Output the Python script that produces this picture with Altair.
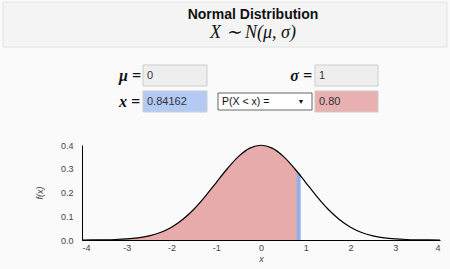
import altair as alt
import pandas as pd

# Curve values (f(x) of N(0,1))
xs = [-4.0, -3.75, -3.5, -3.25, -3.0, -2.75, -2.5, -2.25, -2.0, -1.75, -1.5, -1.25, -1.0, -0.75, -0.5, -0.25,
      0.0, 0.25, 0.5, 0.75, 1.0, 1.25, 1.5, 1.75, 2.0, 2.25, 2.5, 2.75, 3.0, 3.25, 3.5, 3.75, 4.0]
fx = [0.0001, 0.0004, 0.0009, 0.0020, 0.0044, 0.0091, 0.0175, 0.0317, 0.0540, 0.0863, 0.1295, 0.1826, 0.2420,
      0.3011, 0.3521, 0.3867, 0.3989, 0.3867, 0.3521, 0.3011, 0.2420, 0.1826, 0.1295, 0.0863, 0.0540, 0.0317,
      0.0175, 0.0091, 0.0044, 0.0020, 0.0009, 0.0004, 0.0001]
x_value = 0.84162
fx_value = 0.28
prob = "0.80"
mu = "0"
sigma = "1"
x_ticks = [-4, -3, -2, -1, 0, 1, 2, 3, 4]
y_ticks = [0.0, 0.1, 0.2, 0.3, 0.4]

curve = pd.DataFrame({"x": xs, "f": fx})
area_df = pd.DataFrame({"x": [v for v in xs if v < x_value] + [x_value],
                        "f": [f for v, f in zip(xs, fx) if v < x_value] + [fx_value]})
marker = pd.DataFrame({"x": [x_value], "z": [0.0], "f": [fx_value]})
one = pd.DataFrame({"a": [0]})

xsc = alt.Scale(domain=[-4, 4], nice=False)
ysc = alt.Scale(domain=[0, 0.4], nice=False)

xax = alt.Axis(values=x_ticks, tickCount=9, ticks=False, grid=False, domainColor="#000", domainWidth=1,
               labelExpr="'' + datum.value", labelOverlap=False,
               labelFont="Liberation Sans", labelFontSize=9, labelColor="#444", labelPadding=3,
               title="x", titleFont="Liberation Sans", titleFontStyle="italic", titleFontWeight="normal",
               titleFontSize=9, titleColor="#444", titlePadding=2)
yax = alt.Axis(values=y_ticks, tickCount=5, format=".1f", ticks=False, grid=False, domainColor="#000",
               domainWidth=1, labelOverlap=False,
               labelFont="Liberation Sans", labelFontSize=9, labelColor="#444", labelPadding=9,
               title="f(x)", titleFont="Liberation Sans", titleFontWeight="normal", titleFontStyle="italic",
               titleFontSize=9, titleColor="#444", titlePadding=16)

area = alt.Chart(area_df).mark_area(color="#e8abab", interpolate="monotone", opacity=1).encode(
    x=alt.X("x:Q", scale=xsc, axis=xax), y=alt.Y("f:Q", scale=ysc, axis=yax))
bar = alt.Chart(marker).mark_rule(color="#8fb0ea", strokeWidth=4).encode(
    x=alt.X("x:Q", scale=xsc, axis=xax), y=alt.Y("z:Q", scale=ysc, axis=yax), y2="f:Q")
line = alt.Chart(curve).mark_line(color="#000", strokeWidth=1.2, interpolate="monotone").encode(
    x=alt.X("x:Q", scale=xsc, axis=xax), y=alt.Y("f:Q", scale=ysc, axis=yax))


def box(x0, x1, y0, y1, fill, stroke):
    return alt.Chart(one).mark_rect(fill=fill, stroke=stroke, strokeWidth=1).encode(
        x=alt.value(x0), x2=alt.value(x1), y=alt.value(y0), y2=alt.value(y1))


def label(txt, x, y, size=11, font="Liberation Sans", align="left", style="normal", weight="normal", color="#333"):
    return alt.Chart(one).mark_text(text=txt, align=align, baseline="middle", font=font, fontSize=size,
                                    fontStyle=style, fontWeight=weight, color=color).encode(
        x=alt.value(x), y=alt.value(y))


deco = [
    box(-79, 365, -143, -98, "#f4f4f4", "#e2e2e2"),
    label("Normal Distribution", 171, -130, size=14, weight="bold", align="center", color="#111"),
    label("X ∼ N(μ, σ)", 171, -112, size=18, font="Liberation Serif", style="italic", align="center", color="#111"),
    label("μ =", 59, -69, size=16, font="Liberation Serif", style="italic", weight="bold", align="right", color="#111"),
    label("σ =", 230, -69, size=16, font="Liberation Serif", style="italic", weight="bold", align="right", color="#111"),
    label("x =", 58, -43, size=16, font="Liberation Serif", style="italic", weight="bold", align="right", color="#111"),
    box(61, 125, -80, -59, "#eeeeee", "#cccccc"),
    label(mu, 65, -69.5),
    box(233, 296, -80, -59, "#eeeeee", "#cccccc"),
    label(sigma, 237, -69.5),
    box(61, 125, -54, -33, "#b3cbf4", "#cccccc"),
    label(str(x_value), 65, -43.5),
    box(136, 230, -52, -35, "#ffffff", "#666666"),
    label("P(X < x) =", 140, -43.5, size=10.5, color="#111"),
    label("▼", 219, -43.5, size=7, align="center", color="#111"),
    box(233, 296, -54, -33, "#e8b0b0", "#cccccc"),
    label(prob, 237, -43.5),
]

chart = alt.layer(area, bar, line, *deco).properties(
    width=358, height=95,
    padding={"left": 82, "top": 145, "right": 10, "bottom": 29},
    autosize=alt.AutoSizeParams(type="none"),
    background="#fafafa",
).configure_view(stroke=None)

chart.save("out.html", embed_options={"renderer": "svg", "actions": False})
